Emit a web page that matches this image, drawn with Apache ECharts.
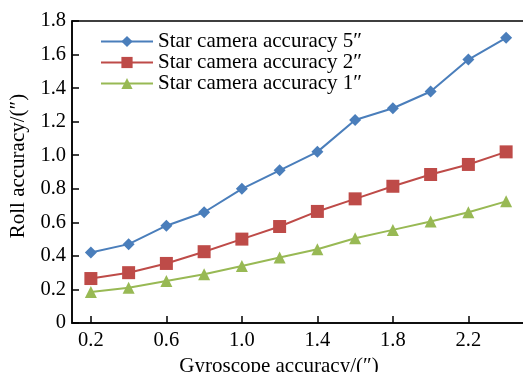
<!DOCTYPE html>
<html><head><meta charset="utf-8">
<script src="https://cdn.jsdelivr.net/npm/echarts@6/dist/echarts.min.js"></script>
<style>html,body{margin:0;padding:0;background:#fff}#c{width:523px;height:372px}</style>
</head><body><div id="c"></div>
<script>
const xValues = [0.2,0.4,0.6,0.8,1.0,1.2,1.4,1.6,1.8,2.0,2.2,2.4];
const star5 = [0.42,0.47,0.58,0.66,0.80,0.91,1.02,1.21,1.28,1.38,1.57,1.70];
const star2 = [0.265,0.30,0.355,0.425,0.50,0.575,0.665,0.74,0.815,0.885,0.945,1.02];
const star1 = [0.185,0.21,0.25,0.29,0.34,0.39,0.44,0.505,0.555,0.605,0.66,0.725];
const xTicks = [0.2,0.6,1.0,1.4,1.8,2.2];
const seriesNames = ['Star camera accuracy 5\u2033','Star camera accuracy 2\u2033','Star camera accuracy 1\u2033'];
const xTitle = 'Gyroscope accuracy/(\u2033)';
const yTitle = 'Roll accuracy/(\u2033)';

const font = 'Liberation Serif';
const pair = arr => xValues.map((x,i)=>[x,arr[i]]);
const chart = echarts.init(document.getElementById('c'));
chart.setOption({
  animation:false,
  backgroundColor:'#fff',
  textStyle:{fontFamily:font},
  grid:{left:72,top:21,bottom:49,right:-2,containLabel:false,outerBoundsMode:'none',
        show:true,borderColor:'#000',borderWidth:1.5},
  legend:{
    left:100, top:31, orient:'vertical', padding:0, itemGap:0,
    itemWidth:52, itemHeight:14,
    textStyle:{fontFamily:font,fontSize:21,color:'#000',padding:[0,0,0,0]},
    data:seriesNames
  },
  xAxis:{
    type:'value', min:0.1, max:2.5,
    name:xTitle, nameLocation:'middle', nameGap:28,
    nameTextStyle:{fontFamily:font,fontSize:21,color:'#000',padding:[0,39,0,0]},
    axisLine:{lineStyle:{color:'#000',width:1.5}},
    axisTick:{inside:true,length:7,customValues:xTicks,lineStyle:{color:'#000',width:1.5}},
    axisLabel:{customValues:xTicks,fontFamily:font,fontSize:20.5,color:'#000',margin:7,formatter:v=>v.toFixed(1)},
    splitLine:{show:false}
  },
  yAxis:{
    type:'value', min:0, max:1.8, interval:0.2,
    name:yTitle, nameLocation:'middle', nameGap:37, nameRotate:90,
    nameTextStyle:{fontFamily:font,fontSize:21,color:'#000',padding:[0,0,0,12]},
    axisLine:{show:true,lineStyle:{color:'#000',width:1.5}},
    axisTick:{show:true,inside:true,length:7,lineStyle:{color:'#000',width:1.5}},
    axisLabel:{fontFamily:font,fontSize:20.5,color:'#000',margin:6,formatter:v=>v===0?'0':v.toFixed(1)},
    splitLine:{show:false}
  },
  series:[
    {name:seriesNames[0],type:'line',data:pair(star5),symbol:'diamond',symbolSize:12,
     itemStyle:{color:'#4a7ebb'},lineStyle:{color:'#4a7ebb',width:2}},
    {name:seriesNames[1],type:'line',data:pair(star2),symbol:'rect',symbolSize:13,
     itemStyle:{color:'#be4b48'},lineStyle:{color:'#be4b48',width:2}},
    {name:seriesNames[2],type:'line',data:pair(star1),symbol:'triangle',symbolSize:12,
     itemStyle:{color:'#98b954'},lineStyle:{color:'#98b954',width:2}}
  ]
});
</script></body></html>
